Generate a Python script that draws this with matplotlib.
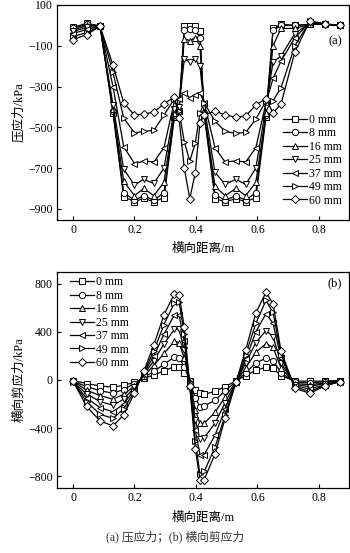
import matplotlib
matplotlib.use("Agg")
import matplotlib.pyplot as plt

plt.rcParams['font.family'] = ['Liberation Serif', 'Noto Sans CJK SC']
plt.rcParams['axes.unicode_minus'] = True

# lateral positions of the gauges (m)
x = [0, 0.044, 0.088, 0.13, 0.165, 0.2, 0.23, 0.263, 0.296, 0.33, 0.345, 0.362,
     0.38, 0.398, 0.413, 0.427, 0.462, 0.495, 0.53, 0.562, 0.595, 0.628, 0.651,
     0.677, 0.722, 0.771, 0.82, 0.868]

labels = ['0 mm', '8 mm', '16 mm', '25 mm', '37 mm', '49 mm', '60 mm']
markers = ['s', 'o', '^', 'v', '<', '>', 'D']

# compressive stress (kPa)
p0 = [-10, 10, -2, -430, -840, -865, -848, -865, -845, -450, -420, -5, -5, -5,
      -30, -440, -850, -865, -850, -865, -845, -450, -15, 5, 0, 5, 5, 0]
p8 = [-15, 5, -3, -420, -820, -858, -835, -858, -820, -440, -420, -25, -20, -25,
      -60, -430, -830, -858, -835, -858, -820, -440, -25, 0, 0, 5, 5, 0]
p16 = [-25, 0, -4, -410, -765, -835, -800, -835, -770, -430, -410, -65, -75, -60,
       -100, -420, -790, -835, -800, -835, -770, -430, -100, -15, -15, 5, 5, 0]
p25 = [-30, -10, -5, -390, -705, -783, -755, -775, -700, -410, -400, -165, -180, -165,
       -200, -400, -720, -780, -755, -780, -700, -400, -180, -150, -40, 10, 5, 0]
p37 = [-40, -20, -5, -300, -595, -678, -665, -670, -600, -370, -360, -330, -355, -340,
       -330, -380, -600, -670, -665, -670, -600, -380, -260, -175, -60, 15, 5, 0]
p49 = [-55, -35, -5, -230, -455, -527, -520, -515, -440, -360, -420, -570, -666, -576,
       -430, -380, -470, -520, -530, -525, -460, -370, -370, -305, -100, 20, 5, 0]
p60 = [-70, -45, -5, -195, -380, -441, -435, -425, -385, -350, -454, -700, -850, -722,
       -479, -440, -420, -440, -450, -445, -390, -360, -430, -385, -130, 22, 8, 0]

# lateral shear stress (kPa)
s0 = [-5, -30, -50, -60, -45, -20, 15, 40, 75, 110, 105, 60, -5, -80, -111, -120,
      -95, -55, -10, 35, 80, 105, 95, 35, -10, -10, -10, -5]
s8 = [-10, -55, -90, -110, -80, -30, 20, 70, 130, 190, 185, 110, -10, -150, -222, -215,
      -170, -90, -15, 60, 140, 181, 160, 60, -20, -25, -15, -5]
s16 = [-10, -85, -130, -160, -120, -50, 30, 120, 220, 320, 310, 180, -20, -250, -361,
       -360, -270, -140, -20, 100, 230, 300, 270, 100, -30, -40, -25, -10]
s25 = [-15, -115, -180, -210, -160, -60, 40, 160, 300, 420, 420, 250, -30, -330, -490,
       -480, -360, -190, -20, 140, 310, 410, 360, 140, -40, -55, -30, -10]
s37 = [-15, -150, -230, -265, -200, -80, 50, 200, 380, 540, 540, 320, -40, -420, -620,
       -620, -460, -240, -20, 170, 400, 550, 470, 180, -50, -75, -40, -15]
s49 = [-15, -180, -285, -320, -240, -95, 60, 240, 460, 640, 650, 380, -50, -510, -780,
       -760, -560, -290, -20, 210, 470, 660, 560, 210, -60, -95, -45, -15]
s60 = [-10, -220, -340, -383, -290, -110, 70, 290, 540, 716, 708, 440, -50, -570, -828,
       -828, -615, -320, -20, 250, 556, 728, 630, 240, -70, -111, -50, -15]

press = [p0, p8, p16, p25, p37, p49, p60]
shear = [s0, s8, s16, s25, s37, s49, s60]

fig = plt.figure(figsize=(3.5, 5.53), dpi=100)
ax1 = fig.add_axes([0.163, 0.602, 0.834, 0.389])
ax2 = fig.add_axes([0.163, 0.117, 0.834, 0.392])


def draw(ax, data):
    for y, lab, m in zip(data, labels, markers):
        ms = 3.9 if m == 'D' else 4.5
        ax.plot(x, y, color='black', lw=0.9, marker=m, ms=ms,
                mfc='white', mec='black', mew=0.7, label=lab)
    ax.set_xlim(-0.052, 0.898)
    ax.set_xticks([0, 0.2, 0.4, 0.6, 0.8])
    ax.set_xticklabels(['0', '0.2', '0.4', '0.6', '0.8'])
    ax.tick_params(direction='in', length=3, width=0.8, labelsize=8.5,
                   top=False, right=False, pad=3)
    for sp in ax.spines.values():
        sp.set_linewidth(0.9)
    ax.set_xlabel('横向距离/m', fontsize=9, labelpad=5)


draw(ax1, press)
ax1.set_ylim(-955, 100)
ax1.set_yticks([100, -100, -300, -500, -700, -900])
ax1.set_ylabel('压应力/kPa', fontsize=9, labelpad=2)
ax1.text(0.975, 0.83, '(a)', transform=ax1.transAxes, ha='right', va='center', fontsize=9)
ax1.legend(loc='lower right', frameon=False, fontsize=8.5, handlelength=2.0,
           handletextpad=0.2, labelspacing=0.12, borderaxespad=0.2,
           bbox_to_anchor=(1.0, 0.03))

draw(ax2, shear)
ax2.set_ylim(-900, 900)
ax2.set_yticks([800, 400, 0, -400, -800])
ax2.set_ylabel('横向剪应力/kPa', fontsize=9, labelpad=2)
ax2.text(0.975, 0.945, '(b)', transform=ax2.transAxes, ha='right', va='center', fontsize=9)
ax2.legend(loc='upper left', frameon=False, fontsize=8.5, handlelength=2.0,
           handletextpad=0.2, labelspacing=0.12, borderaxespad=0.2,
           bbox_to_anchor=(0.02, 1.01))

fig.text(0.5, 0.018, '(a) 压应力；(b) 横向剪应力', ha='center', va='bottom',
         fontsize=8.5, color='#333333')

fig.savefig('out.png', dpi=100)
